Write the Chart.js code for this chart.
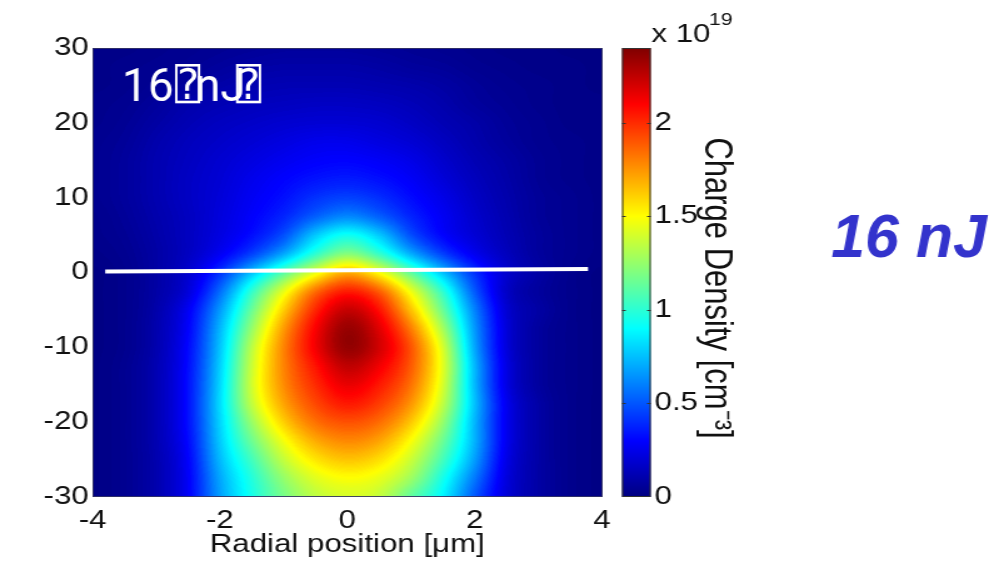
<!DOCTYPE html>
<html>
<head>
<meta charset="utf-8">
<script src="https://cdn.jsdelivr.net/npm/chart.js@4.4.1/dist/chart.umd.min.js"></script>
<style>
  html, body { margin: 0; padding: 0; background: #fff; }
  #c { width: 994px !important; height: 563px !important; }
</style>
</head>
<body>
<canvas id="c" width="795" height="563"></canvas>
<script>
// Radial position (um), longitudinal position, charge density (x 1e19 cm^-3)
const xValues = [-4, -3.5, -3, -2.5, -2, -1.5, -1, -0.5, 0, 0.5, 1, 1.5, 2, 2.5, 3, 3.5, 4];
const yValues = [30, 27.5, 25, 22.5, 20, 17.5, 15, 12.5, 10, 7.5, 5, 2.5, 0, -2.5, -5, -7.5, -10, -12.5, -15, -17.5, -20, -22.5, -25, -27.5, -30];
const density = [
  [0.02,0.02,0.03,0.04,0.05,0.06,0.07,0.07,0.07,0.06,0.05,0.04,0.03,0.02,0.02,0.01,0.01],
  [0.02,0.03,0.04,0.05,0.07,0.08,0.09,0.09,0.09,0.08,0.07,0.06,0.04,0.03,0.02,0.02,0.01],
  [0.02,0.03,0.05,0.07,0.09,0.11,0.12,0.12,0.12,0.11,0.10,0.08,0.06,0.04,0.03,0.02,0.01],
  [0.03,0.04,0.07,0.10,0.12,0.14,0.15,0.16,0.16,0.15,0.13,0.10,0.07,0.05,0.03,0.02,0.02],
  [0.03,0.05,0.08,0.12,0.15,0.17,0.19,0.20,0.20,0.19,0.16,0.12,0.09,0.06,0.04,0.02,0.02],
  [0.04,0.06,0.10,0.14,0.17,0.20,0.23,0.25,0.25,0.23,0.20,0.15,0.10,0.07,0.04,0.03,0.02],
  [0.04,0.07,0.11,0.15,0.19,0.23,0.26,0.29,0.30,0.28,0.24,0.18,0.12,0.08,0.05,0.03,0.02],
  [0.04,0.07,0.11,0.16,0.20,0.25,0.30,0.34,0.36,0.33,0.28,0.21,0.14,0.09,0.05,0.03,0.02],
  [0.04,0.07,0.11,0.16,0.21,0.27,0.33,0.41,0.45,0.40,0.32,0.24,0.16,0.10,0.06,0.04,0.02],
  [0.03,0.06,0.10,0.15,0.22,0.29,0.38,0.52,0.62,0.52,0.38,0.27,0.18,0.11,0.06,0.04,0.02],
  [0.03,0.05,0.09,0.15,0.23,0.32,0.47,0.78,0.95,0.78,0.47,0.29,0.20,0.12,0.07,0.04,0.02],
  [0.02,0.04,0.08,0.15,0.26,0.43,0.68,1.00,1.22,1.02,0.70,0.43,0.25,0.14,0.07,0.04,0.02],
  [0.01,0.03,0.08,0.18,0.40,0.75,1.10,1.45,1.72,1.50,1.12,0.75,0.40,0.18,0.08,0.03,0.01],
  [0.01,0.03,0.08,0.20,0.55,1.02,1.45,1.86,2.06,1.90,1.47,1.02,0.50,0.15,0.07,0.03,0.01],
  [0.01,0.03,0.09,0.26,0.66,1.15,1.62,2.02,2.26,2.08,1.65,1.15,0.60,0.18,0.08,0.03,0.01],
  [0.01,0.03,0.10,0.28,0.72,1.25,1.74,2.12,2.37,2.18,1.82,1.30,0.65,0.20,0.07,0.03,0.01],
  [0.01,0.03,0.10,0.30,0.75,1.35,1.80,2.14,2.38,2.22,1.92,1.42,0.68,0.20,0.07,0.03,0.01],
  [0.01,0.04,0.11,0.31,0.78,1.38,1.80,2.06,2.27,2.14,1.90,1.45,0.72,0.22,0.07,0.03,0.01],
  [0.01,0.04,0.11,0.32,0.80,1.40,1.78,2.00,2.16,2.05,1.84,1.42,0.72,0.22,0.07,0.03,0.01],
  [0.01,0.04,0.11,0.32,0.82,1.36,1.72,1.94,2.06,1.97,1.76,1.36,0.75,0.24,0.08,0.03,0.01],
  [0.01,0.04,0.11,0.32,0.80,1.26,1.62,1.84,1.92,1.85,1.64,1.26,0.72,0.24,0.08,0.03,0.01],
  [0.01,0.04,0.11,0.30,0.78,1.16,1.48,1.70,1.79,1.72,1.50,1.16,0.72,0.24,0.08,0.03,0.01],
  [0.01,0.04,0.10,0.28,0.74,1.05,1.36,1.56,1.65,1.58,1.38,1.06,0.68,0.23,0.08,0.03,0.01],
  [0.01,0.04,0.10,0.27,0.70,0.98,1.25,1.43,1.50,1.45,1.28,0.95,0.58,0.21,0.08,0.03,0.01],
  [0.01,0.04,0.10,0.27,0.68,0.95,1.18,1.35,1.40,1.36,1.12,0.88,0.50,0.20,0.08,0.03,0.01]
];
const colorMax = 2.4;
const colorTicks = [0, 0.5, 1, 1.5, 2];
const xTicks = [-4, -2, 0, 2, 4];
const yTicks = [-30, -20, -10, 0, 10, 20, 30];
// white cut line
const lineX = [-3.8, 3.78];
const lineY = [0.12, 0.47];

// the figure is stretched horizontally on the slide
const stretch = 994 / 795;
const FONT = "'Liberation Sans', Arial, sans-serif";

function jet(t) {
  t = Math.max(0, Math.min(1, t));
  const c = v => Math.max(0, Math.min(1, v));
  return [c(1.5 - Math.abs(4 * t - 3)), c(1.5 - Math.abs(4 * t - 2)), c(1.5 - Math.abs(4 * t - 1))];
}
function jetCss(t) {
  const [r, g, b] = jet(t);
  return `rgb(${Math.round(r * 255)},${Math.round(g * 255)},${Math.round(b * 255)})`;
}

const heatmap = {
  id: 'heatmap',
  beforeDatasetsDraw(chart) {
    const {ctx, chartArea: a, scales: {x, y}} = chart;
    const nx = xValues.length, ny = yValues.length;
    const src = document.createElement('canvas');
    src.width = nx; src.height = ny;
    const sctx = src.getContext('2d');
    const img = sctx.createImageData(nx, ny);
    density.forEach((row, j) => row.forEach((v, i) => {
      const k = (j * nx + i) * 4;
      const g = Math.round(v / colorMax * 255);
      img.data[k] = g; img.data[k + 1] = g; img.data[k + 2] = g; img.data[k + 3] = 255;
    }));
    sctx.putImageData(img, 0, 0);

    const w = Math.round(a.right - a.left), h = Math.round(a.bottom - a.top);
    const big = document.createElement('canvas');
    big.width = w; big.height = h;
    const bctx = big.getContext('2d', {willReadFrequently: true});
    bctx.imageSmoothingEnabled = true;
    bctx.imageSmoothingQuality = 'high';
    const hx = (xValues[1] - xValues[0]) / 2, hy = (yValues[0] - yValues[1]) / 2;
    const x0 = x.getPixelForValue(xValues[0] - hx) - a.left;
    const x1 = x.getPixelForValue(xValues[nx - 1] + hx) - a.left;
    const y0 = y.getPixelForValue(yValues[0] + hy) - a.top;
    const y1 = y.getPixelForValue(yValues[ny - 1] - hy) - a.top;
    bctx.drawImage(src, x0, y0, x1 - x0, y1 - y0);
    const d = bctx.getImageData(0, 0, w, h);
    for (let k = 0; k < d.data.length; k += 4) {
      const [r, g, b] = jet(d.data[k] / 255);
      d.data[k] = r * 255; d.data[k + 1] = g * 255; d.data[k + 2] = b * 255; d.data[k + 3] = 255;
    }
    bctx.putImageData(d, 0, 0);
    ctx.drawImage(big, a.left, a.top);
    ctx.save();
    ctx.strokeStyle = 'rgba(50,50,100,0.9)';
    ctx.lineWidth = 1;
    ctx.strokeRect(a.left + 0.5, a.top + 0.5, w - 1, h - 1);
    ctx.restore();
  },
  afterDraw(chart) {
    const {ctx} = chart;
    const cb = chart.scales.cb;
    // colorbar
    const bx = cb.left + 16, bw = 23;
    const top = cb.getPixelForValue(colorMax), bottom = cb.getPixelForValue(0);
    ctx.save();
    for (let py = Math.floor(top); py < bottom; py++) {
      ctx.fillStyle = jetCss(cb.getValueForPixel(py + 0.5) / colorMax);
      ctx.fillRect(bx, py, bw, 1);
    }
    ctx.strokeStyle = '#333';
    ctx.lineWidth = 1;
    ctx.strokeRect(bx + 0.5, top + 0.5, bw - 1, bottom - top - 1);
    colorTicks.forEach(v => {
      if (v <= 0) return;
      const py = Math.round(cb.getPixelForValue(v)) + 0.5;
      ctx.beginPath();
      ctx.moveTo(bx, py); ctx.lineTo(bx + 3, py);
      ctx.moveTo(bx + bw - 3, py); ctx.lineTo(bx + bw, py);
      ctx.stroke();
    });
    // colorbar multiplier
    ctx.fillStyle = '#111';
    ctx.textBaseline = 'alphabetic';
    ctx.textAlign = 'left';
    ctx.font = `25px ${FONT}`;
    ctx.fillText('x 10', 521, 42);
    ctx.font = `17px ${FONT}`;
    ctx.fillText('19', 567, 25);
    // colorbar label, reads top to bottom
    ctx.translate(573, 288);
    ctx.rotate(Math.PI / 2);
    ctx.textAlign = 'center';
    ctx.textBaseline = 'middle';
    ctx.font = `31px ${FONT}`;
    ctx.fillText('Charge Density [cm\u207b\u00b3]', 0, 0);
    ctx.restore();

    // slide annotations, not stretched
    ctx.save();
    ctx.setTransform(1 / stretch, 0, 0, 1, 0, 0);
    ctx.textBaseline = 'alphabetic';
    ctx.textAlign = 'left';
    ctx.fillStyle = '#ffffff';
    ctx.font = "46px Roboto, 'Open Sans', sans-serif";
    ctx.fillText('16', 122, 100.5);
    ctx.fillText('nJ', 195, 100.5);
    ctx.font = "42px 'DejaVu Sans Mono', 'DejaVu Sans', sans-serif";
    ctx.fillText('\u2370', 175, 99);
    ctx.fillText('\u2370', 236, 99);
    ctx.fillStyle = '#3333cc';
    ctx.font = `italic bold 61px ${FONT}`;
    ctx.fillText('16 nJ', 831, 257);
    ctx.restore();
  }
};

const keepTicks = list => scale => {
  scale.ticks = list.map(v => ({value: v}));
};
const plainLabel = v => String(v);

new Chart(document.getElementById('c'), {
  type: 'scatter',
  data: {
    datasets: [{
      label: 'cut',
      data: lineX.map((v, i) => ({x: v, y: lineY[i]})),
      showLine: true,
      borderColor: '#ffffff',
      borderWidth: 4,
      pointRadius: 0,
      fill: false
    }]
  },
  options: {
    responsive: false,
    animation: false,
    devicePixelRatio: 1,
    layout: {padding: {top: 48, left: 0, right: 203.5, bottom: 0}},
    plugins: {legend: {display: false}, tooltip: {enabled: false}},
    scales: {
      x: {
        type: 'linear', min: -4, max: 4,
        afterBuildTicks: keepTicks(xTicks),
        afterFit: s => { s.height = 66; },
        grid: {display: false, drawTicks: false},
        border: {display: false},
        ticks: {font: {family: FONT, size: 25}, color: '#111', padding: 9, maxRotation: 0, callback: plainLabel},
        title: {display: true, text: 'Radial position [\u03bcm]', color: '#111',
                font: {family: FONT, size: 25}, padding: {top: 0, bottom: 3}}
      },
      y: {
        type: 'linear', min: -30, max: 30,
        afterBuildTicks: keepTicks(yTicks),
        afterFit: s => { s.width = 74; },
        grid: {display: false, drawTicks: false},
        border: {display: false},
        ticks: {font: {family: FONT, size: 25}, color: '#111', padding: 3, callback: plainLabel}
      },
      cb: {
        type: 'linear', position: 'right', min: 0, max: colorMax,
        afterBuildTicks: keepTicks(colorTicks),
        afterFit: s => { s.width = 110; },
        grid: {display: true, drawOnChartArea: false, drawTicks: true, tickLength: 42, color: 'rgba(0,0,0,0)'},
        border: {display: false},
        ticks: {font: {family: FONT, size: 25}, color: '#111', padding: 0, callback: plainLabel}
      }
    }
  },
  plugins: [heatmap]
});
</script>
</body>
</html>
